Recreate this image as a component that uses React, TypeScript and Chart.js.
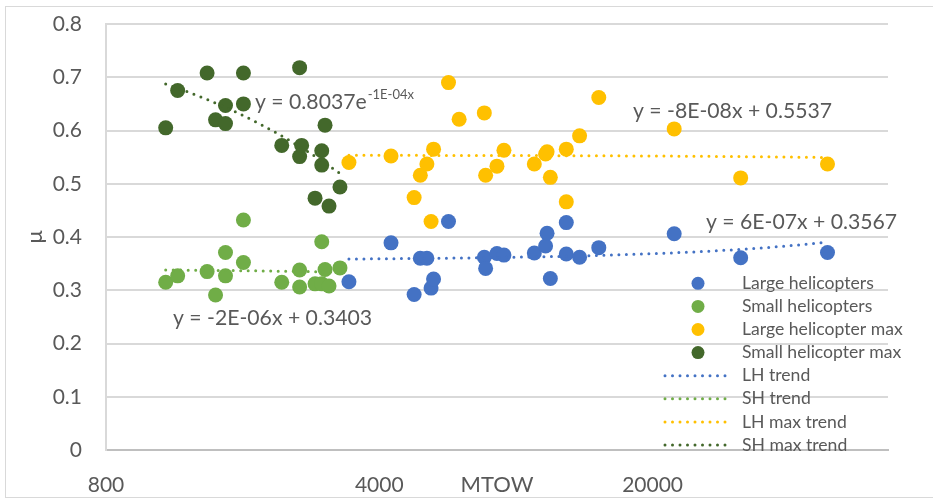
import React, { useEffect, useRef } from 'react';
import { Chart, registerables } from 'chart.js';

Chart.register(...registerables);

// ---------- data ----------
const xTickValues = [800, 4000, 20000];

const lhMtow = [3345, 4286, 4911, 5093, 5294, 5426, 5506, 6012, 7424, 7482, 7998, 8333, 9966, 10650, 10743, 10953, 12031, 12031, 13011, 14569, 22712, 33597, 56020];
const lhMu = [0.316, 0.389, 0.292, 0.360, 0.360, 0.304, 0.321, 0.429, 0.362, 0.341, 0.369, 0.366, 0.370, 0.383, 0.407, 0.322, 0.427, 0.368, 0.362, 0.380, 0.406, 0.361, 0.371];

const shMtow = [1137, 1220, 1451, 1525, 1617, 1617, 1797, 1797, 2252, 2502, 2502, 2740, 2850, 2850, 2906, 2975, 3173];
const shMu = [0.315, 0.327, 0.335, 0.291, 0.327, 0.371, 0.432, 0.352, 0.315, 0.338, 0.306, 0.312, 0.391, 0.312, 0.339, 0.308, 0.342];

const lhMaxMtow = [3345, 4286, 4911, 5093, 5294, 5426, 5506, 6012, 6401, 7424, 7482, 7998, 8333, 9966, 10650, 10743, 10953, 12031, 12031, 13011, 14569, 22712, 33597, 56020];
const lhMaxMu = [0.540, 0.552, 0.474, 0.516, 0.537, 0.429, 0.565, 0.690, 0.621, 0.633, 0.516, 0.533, 0.563, 0.537, 0.556, 0.560, 0.512, 0.565, 0.466, 0.590, 0.662, 0.603, 0.511, 0.537];

const shMaxMtow = [1137, 1220, 1451, 1525, 1617, 1617, 1797, 1797, 2252, 2502, 2502, 2532, 2740, 2850, 2850, 2906, 2975, 3173];
const shMaxMu = [0.605, 0.675, 0.708, 0.620, 0.647, 0.613, 0.708, 0.650, 0.572, 0.718, 0.551, 0.572, 0.473, 0.562, 0.535, 0.610, 0.458, 0.494];

// trend line parameters (from the chart's trendline equations)
const lhTrend = { slope: 6e-7, intercept: 0.3567 };
const shTrend = { slope: -2e-6, intercept: 0.3403 };
const lhMaxTrend = { slope: -8e-8, intercept: 0.5537 };
const shMaxTrend = { a: 0.8037, b: -1.375e-4 };

const seriesLabels = ['Large helicopters', 'Small helicopters', 'Large helicopter max', 'Small helicopter max'];
const trendLabels = ['LH trend', 'SH trend', 'LH max trend', 'SH max trend'];

// ---------- styles ----------
const BLUE = '#4472C4';
const GREEN = '#70AD47';
const YELLOW = '#FFC000';
const DKGREEN = '#43682B';
const TEXT = '#595959';
const FONT = 'Lato';

const pts = (xs: number[], ys: number[]) => xs.map((x, i) => ({ x, y: ys[i] }));

const trendPoints = (xs: number[], f: (x: number) => number) => {
  const lo = Math.min(...xs);
  const hi = Math.max(...xs);
  const n = 80;
  const out: { x: number; y: number }[] = [];
  for (let i = 0; i <= n; i++) {
    const x = lo * Math.pow(hi / lo, i / n);
    out.push({ x, y: f(x) });
  }
  return out;
};

const pointDs = (label: string, data: any[], color: string, order: number) => ({
  label,
  data,
  backgroundColor: color,
  borderColor: color,
  borderWidth: 0,
  pointRadius: 7.5,
  pointHoverRadius: 7.5,
  showLine: false,
  order,
});

const trendDs = (label: string, data: any[], color: string) => ({
  label,
  data,
  borderColor: color,
  backgroundColor: color,
  borderWidth: 3,
  borderDash: [0, 7.5],
  borderCapStyle: 'round',
  pointRadius: 0,
  showLine: true,
  tension: 0,
  order: 0,
});

const overlayPlugin = {
  id: 'overlay',
  afterDraw(chart: any) {
    const ctx = chart.ctx as CanvasRenderingContext2D;
    ctx.save();
    // equations
    ctx.fillStyle = TEXT;
    ctx.textBaseline = 'middle';
    ctx.textAlign = 'left';
    ctx.font = `21.2px ${FONT}`;
    const main = 'y = 0.8037e';
    ctx.fillText(main, 255, 102);
    const w = ctx.measureText(main).width;
    ctx.font = `13px ${FONT}`;
    ctx.fillText('-1E-04x', 255 + w + 1, 95);
    ctx.font = `21.2px ${FONT}`;
    ctx.fillText('y = -8E-08x + 0.5537', 633, 111);
    ctx.fillText('y = 6E-07x + 0.3567', 706, 222);
    ctx.fillText('y = -2E-06x + 0.3403', 173, 318);

    // legend
    const colors = [BLUE, GREEN, YELLOW, DKGREEN];
    const rowY = (i: number) => 283.3 + i * 23.1;
    ctx.font = `17.6px ${FONT}`;
    for (let i = 0; i < 4; i++) {
      ctx.beginPath();
      ctx.fillStyle = colors[i];
      ctx.arc(698, rowY(i), 6.5, 0, Math.PI * 2);
      ctx.fill();
      ctx.fillStyle = TEXT;
      ctx.fillText(seriesLabels[i], 742, rowY(i));
    }
    for (let i = 0; i < 4; i++) {
      const y = rowY(i + 4);
      ctx.beginPath();
      ctx.strokeStyle = colors[i];
      ctx.lineWidth = 3;
      ctx.lineCap = 'round';
      ctx.setLineDash([0, 7.5]);
      ctx.moveTo(665, y);
      ctx.lineTo(730, y);
      ctx.stroke();
      ctx.setLineDash([]);
      ctx.fillStyle = TEXT;
      ctx.fillText(trendLabels[i], 742, y);
    }
    ctx.restore();
  },
};

export default function App() {
  const ref = useRef<HTMLCanvasElement | null>(null);

  useEffect(() => {
    if (!ref.current) return;
    const chart = new Chart(ref.current, {
      type: 'scatter',
      data: {
        datasets: [
          trendDs(trendLabels[0], trendPoints(lhMtow, (x) => lhTrend.slope * x + lhTrend.intercept), BLUE),
          trendDs(trendLabels[1], trendPoints(shMtow, (x) => shTrend.slope * x + shTrend.intercept), GREEN),
          trendDs(trendLabels[2], trendPoints(lhMaxMtow, (x) => lhMaxTrend.slope * x + lhMaxTrend.intercept), YELLOW),
          trendDs(trendLabels[3], trendPoints(shMaxMtow, (x) => shMaxTrend.a * Math.exp(shMaxTrend.b * x)), DKGREEN),
          pointDs(seriesLabels[3], pts(shMaxMtow, shMaxMu), DKGREEN, 1),
          pointDs(seriesLabels[2], pts(lhMaxMtow, lhMaxMu), YELLOW, 2),
          pointDs(seriesLabels[1], pts(shMtow, shMu), GREEN, 3),
          pointDs(seriesLabels[0], pts(lhMtow, lhMu), BLUE, 4),
        ] as any,
      },
      options: {
        animation: false,
        responsive: false,
        maintainAspectRatio: false,
        layout: { padding: { top: 24, right: 45, left: 0, bottom: 0 } },
        plugins: { legend: { display: false }, tooltip: { enabled: false } },
        scales: {
          x: {
            type: 'logarithmic',
            min: 800,
            max: 80000,
            afterBuildTicks: (s: any) => {
              s.ticks = xTickValues.map((v) => ({ value: v }));
            },
            afterFit: (s: any) => {
              s.height = 52;
              s.paddingLeft = 0;
              s.paddingRight = 0;
            },
            grid: { display: false, drawTicks: false },
            border: { display: true, color: '#BFBFBF', width: 2 },
            ticks: {
              padding: 23,
              color: TEXT,
              font: { family: FONT, size: 21 },
              maxRotation: 0,
              autoSkip: false,
              callback: (v: any) => String(v),
            },
            title: {
              display: true,
              text: 'MTOW',
              color: TEXT,
              font: { family: FONT, size: 22 },
              padding: { top: 0, bottom: 4 },
            },
          },
          y: {
            min: 0,
            max: 0.8,
            afterFit: (s: any) => {
              s.width = 106;
              s.paddingTop = 0;
              s.paddingBottom = 0;
            },
            grid: {
              color: (c: any) => (c.tick && c.tick.value === 0 ? '#BFBFBF' : '#D9D9D9'),
              lineWidth: 2,
              drawTicks: false,
            },
            border: { display: true, color: '#D9D9D9', width: 2 },
            ticks: {
              stepSize: 0.1,
              padding: 24,
              color: TEXT,
              font: { family: FONT, size: 21 },
              callback: (v: any) => String(Number(Number(v).toFixed(1))),
            },
            title: {
              display: true,
              text: 'μ',
              color: TEXT,
              font: { family: FONT, size: 22 },
              padding: { top: 22, bottom: 0 },
            },
          },
        },
      } as any,
      plugins: [overlayPlugin],
    });
    return () => chart.destroy();
  }, []);

  return (
    <div style={{ position: 'fixed', left: 0, top: 0, width: 933, height: 502, background: '#fff', overflow: 'hidden' }}>
      <div
        style={{
          position: 'absolute',
          left: 5,
          top: 6,
          width: 960,
          height: 492,
          border: '1.5px solid #D9D9D9',
          boxSizing: 'border-box',
        }}
      />
      <canvas ref={ref} width={933} height={502} style={{ position: 'absolute', left: 0, top: 0, width: 933, height: 502 }} />
    </div>
  );
}
